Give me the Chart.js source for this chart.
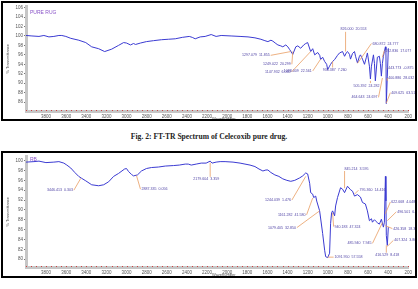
<!DOCTYPE html>
<html>
<head>
<meta charset="utf-8">
<script src="https://cdn.jsdelivr.net/npm/chart.js@4.4.1/dist/chart.umd.min.js"></script>
<style>
  body { margin: 0; width: 418px; height: 289px; background: #fff; position: relative; overflow: hidden; }
  .frame { position: absolute; left: 1px; width: 412px; border: 2px solid #000; }
  #f1 { top: 1px; height: 116px; }
  #f2 { top: 151px; height: 123px; }
  .frame canvas { display: block; }
  #cap { position: absolute; top: 132px; left: 0; width: 418px; text-align: center;
         font: bold 7.6px 'Liberation Serif', serif; color: #222; }
</style>
</head>
<body>
<div class="frame" id="f1"><canvas id="pureChart" width="412" height="116"></canvas></div>
<div id="cap">Fig. 2: FT-TR Spectrum of Celecoxib pure drug.</div>
<div class="frame" id="f2"><canvas id="rbChart" width="412" height="123"></canvas></div>

<script>
// x axis (wavenumber) tick labels, shared by both panels
const waveTicks = [3800, 3600, 3400, 3200, 3000, 2800, 2600, 2400, 2200, 2000, 1800, 1600, 1400, 1200, 1000, 800, 600, 400, 200];
const pureTicksY = [106, 104, 102, 100, 98, 96, 94, 92, 90, 88, 86];
const rbTicksY = [100, 98, 96, 94, 92, 90, 88, 86, 84, 82, 80];

// pure drug spectrum
const pureWave = [4000, 3941, 3871, 3822, 3772, 3723, 3673, 3644, 3604, 3555, 3475, 3406, 3347, 3278, 3218, 3149, 3080, 3030, 3001, 2961,
  2931, 2911, 2862, 2803, 2733, 2654, 2585, 2516, 2446, 2377, 2347, 2318, 2268, 2219, 2159, 2110, 2060, 1961, 1872, 1793,
  1724, 1665, 1625, 1595, 1565, 1546, 1516, 1496, 1467, 1447, 1417, 1397, 1378, 1348, 1318, 1298, 1269, 1239, 1219, 1200,
  1170, 1150, 1130, 1100, 1080, 1071, 1051, 1031, 1011, 1001, 982, 972, 952, 932, 903, 883, 853, 833, 814, 804,
  784, 774, 754, 734, 724, 705, 685, 675, 655, 635, 616, 606, 586, 576, 566, 546, 536, 527, 517, 507,
  487, 477, 467, 457, 447, 437, 427, 422, 418, 408, 398];
const pureTrans = [100.1, 100.0, 99.9, 100.1, 99.8, 99.9, 100.1, 100.1, 99.9, 99.5, 99.1, 98.6, 97.7, 97.3, 96.7, 97.2, 98.0, 98.6, 98.5, 98.1,
  98.4, 98.2, 98.5, 98.8, 99.0, 99.2, 99.3, 99.4, 99.7, 99.9, 99.7, 99.4, 99.8, 99.9, 100.3, 99.9, 100.1, 100.0, 99.9, 99.8,
  99.6, 99.3, 99.0, 98.8, 99.1, 98.9, 98.4, 98.1, 97.9, 97.7, 98.1, 97.7, 97.1, 96.1, 97.7, 97.9, 97.4, 98.1, 98.4, 98.6,
  96.7, 97.3, 96.0, 96.5, 95.9, 95.0, 95.5, 94.6, 94.0, 92.9, 93.6, 94.0, 94.6, 95.0, 95.9, 96.4, 96.7, 95.7, 96.5, 96.7,
  96.1, 95.1, 96.3, 96.7, 95.7, 94.3, 95.7, 96.0, 95.1, 94.0, 95.5, 96.4, 93.6, 90.9, 93.6, 96.0, 94.2, 90.5, 93.0, 95.5,
  95.7, 94.2, 91.5, 94.2, 95.7, 96.7, 97.7, 97.1, 85.7, 91.5, 97.4];

// RB spectrum
const rbWave = [4000, 3921, 3871, 3802, 3723, 3673, 3624, 3594, 3555, 3515, 3476, 3446, 3406, 3347, 3278, 3228, 3179, 3129, 3080, 3020,
  3001, 2981, 2951, 2931, 2892, 2852, 2803, 2753, 2684, 2615, 2535, 2476, 2417, 2387, 2357, 2308, 2258, 2209, 2169, 2150,
  2110, 2070, 2021, 1942, 1872, 1823, 1773, 1724, 1684, 1645, 1615, 1595, 1566, 1526, 1486, 1447, 1407, 1368, 1328, 1279,
  1249, 1219, 1200, 1180, 1170, 1150, 1140, 1120, 1110, 1081, 1051, 1031, 1021, 1001, 982, 972, 962, 952, 932, 922,
  903, 873, 853, 833, 804, 774, 754, 734, 705, 675, 655, 626, 606, 586, 566, 556, 536, 527, 507, 487,
  467, 447, 437, 427, 422, 418, 408, 398];
const rbTrans = [99.7, 99.8, 99.9, 99.6, 99.7, 99.8, 99.5, 99.1, 98.5, 97.6, 96.8, 96.4, 95.9, 95.1, 94.9, 95.1, 95.7, 96.8, 97.4, 98.3,
  98.4, 97.8, 97.2, 96.9, 97.1, 97.9, 98.4, 98.6, 98.7, 98.9, 99.0, 99.1, 99.3, 99.3, 99.1, 99.3, 99.5, 99.5, 99.9, 99.5,
  99.7, 99.8, 99.8, 99.7, 99.5, 99.3, 99.1, 98.8, 98.3, 97.9, 98.1, 98.1, 97.6, 97.1, 96.8, 96.3, 96.0, 95.8, 96.0, 96.5,
  96.9, 97.5, 97.3, 95.4, 93.5, 93.2, 92.5, 92.8, 91.8, 89.8, 85.2, 81.8, 80.5, 80.3, 81.2, 87.2, 89.4, 89.8, 88.8, 90.8,
  92.5, 94.5, 94.2, 93.5, 94.8, 94.1, 93.8, 92.8, 93.1, 92.6, 91.5, 91.2, 89.8, 87.8, 88.2, 87.5, 88.0, 87.8, 87.4, 87.1,
  88.1, 86.5, 87.5, 96.8, 91.8, 84.8, 82.8, 86.5];

// peak annotations: text, marked peak (wavenumber, %T)
const purePeakText = ['1297.079  11.855', '1249.022  20.299', '1147.932  6.060', '1088.009  22.561', '936.387  7.260',
  '826.000  20.553', '680.872  24.777', '592.836  17.077', '443.773  -0.875', '400.886  28.032',
  '505.392  24.282', '464.643  24.697', '409.625  63.513'];
const purePeakWave = [1368, 1348, 1170, 1071, 952, 823, 705, 457, 418, 408, 576, 457, 418];
const purePeakTrans = [96.7, 96.7, 96.7, 95.1, 94.6, 96.7, 94.2, 95.5, 93.0, 90.5, 90.5, 91.1, 85.8];
// where each label sits (wavenumber, %T of its left/middle)
const purePeakLabelAt = [[1853, 95.9], [1645, 94.0], [1625, 92.4], [1437, 92.6], [1051, 92.8],
  [873, 101.4], [556, 98.4], [428, 96.9], [398, 93.2], [398, 91.1],
  [744, 89.5], [764, 87.0], [368, 88.0]];

const rbPeakText = ['3446.413  0.303', '2887.335  0.056', '2179.604  3.359', '1244.039  1.476', '1161.282  41.580',
  '1079.405  32.850', '1091.950  57.558', '940.183  47.324', '845.214  3.595', '795.360  14.416',
  '622.668  4.048', '496.501  6.722', '426.358  18.312', '407.324  3.862', '485.940  7.945', '416.529  8.418'];
const rbPeakWave = [3456, 2902, 2169, 1219, 1150, 1081, 1001, 952, 833, 734, 428, 408, 428, 408, 457, 418];
const rbPeakTrans = [96.4, 97.0, 99.6, 96.8, 92.4, 89.8, 80.4, 89.4, 94.4, 93.2, 89.2, 87.8, 86.8, 82.6, 87.4, 82.8];
const rbPeakLabelAt = [[3792, 94.0], [2852, 94.2], [2337, 96.2], [1625, 92.0], [1496, 89.0],
  [1595, 86.4], [932, 80.4], [932, 86.6], [833, 98.4], [685, 94.0],
  [368, 91.6], [309, 89.6], [348, 86.2], [338, 83.8], [804, 83.2], [527, 80.8]];

// leader lines + peak labels
const peakLabels = {
  id: 'peakLabels',
  afterDatasetsDraw(chart, args, opts) {
    const ctx = chart.ctx, x = chart.scales.x, y = chart.scales.y;
    ctx.save();
    ctx.font = '3.6px "Liberation Sans"';
    ctx.textBaseline = 'middle';
    opts.text.forEach((t, i) => {
      const tx = x.getPixelForValue(opts.wave[i]);
      const ty = y.getPixelForValue(opts.trans[i]);
      const lx = x.getPixelForValue(opts.at[i][0]);
      const ly = y.getPixelForValue(opts.at[i][1]);
      const w = ctx.measureText(t).width;
      let sx, sy;
      if (tx > lx + w) { sx = lx + w + 1; sy = ly; }
      else if (tx < lx) { sx = lx - 1; sy = ly; }
      else { sx = tx; sy = ty < ly ? ly - 2.5 : ly + 2.5; }
      ctx.strokeStyle = '#e99d62';
      ctx.lineWidth = 0.8;
      ctx.beginPath();
      ctx.moveTo(sx, sy);
      ctx.lineTo(tx, ty);
      ctx.stroke();
      ctx.fillStyle = '#5246a6';
      ctx.fillText(t, lx, ly);
    });
    ctx.restore();
  }
};

// axis titles, sample tag and the red minor marks on the x axis
const panelDecor = {
  id: 'panelDecor',
  afterDraw(chart, args, opts) {
    const ctx = chart.ctx, area = chart.chartArea, x = chart.scales.x;
    ctx.save();
    ctx.fillStyle = '#d04040';
    for (let w = 4000; w >= 200; w -= 50) {
      ctx.fillRect(Math.round(x.getPixelForValue(w)), area.bottom - 1, 1, 1);
    }
    ctx.fillStyle = '#555';
    ctx.font = '4px "Liberation Sans"';
    ctx.textBaseline = 'middle';
    ctx.fillText('Wavenumber', 209, area.bottom + 7.5);
    ctx.translate(5, (area.top + area.bottom) / 2);
    ctx.rotate(-Math.PI / 2);
    ctx.textAlign = 'center';
    ctx.fillText('% Transmittance', 0, 0);
    ctx.restore();
    ctx.save();
    ctx.fillStyle = '#8a55c8';
    ctx.font = '5px "Liberation Sans"';
    ctx.textBaseline = 'middle';
    ctx.fillText(opts.tag, area.left + 4, area.top + opts.tagDy);
    ctx.restore();
  }
};

function makeChart(id, wave, trans, ticksY, yMin, yMax, pad, axisH, peaks, tag, tagDy) {
  return new Chart(document.getElementById(id).getContext('2d'), {
    type: 'line',
    data: {
      datasets: [{
        data: wave.map((w, i) => ({ x: w, y: trans[i] })),
        borderColor: '#3b3bd2',
        borderWidth: 1,
        pointRadius: 0,
        tension: 0
      }]
    },
    options: {
      responsive: false,
      animation: false,
      layout: { padding: pad },
      plugins: {
        legend: { display: false },
        tooltip: { enabled: false },
        peakLabels: peaks,
        panelDecor: { tag: tag, tagDy: tagDy }
      },
      scales: {
        x: {
          type: 'linear',
          reverse: true,
          min: 200,
          max: 4000,
          afterBuildTicks: axis => { axis.ticks = waveTicks.map(v => ({ value: v })); },
          afterFit: axis => { axis.height = axisH; },
          grid: { display: false, drawTicks: false },
          border: { color: '#c6c6c6', width: 3 },
          ticks: {
            font: { size: 4.5, family: 'Liberation Sans' }, color: '#555', padding: 3,
            maxRotation: 0, autoSkip: false, callback: v => String(v)
          }
        },
        y: {
          min: yMin,
          max: yMax,
          afterBuildTicks: axis => { axis.ticks = ticksY.map(v => ({ value: v })); },
          afterFit: axis => { axis.width = 23; },
          grid: { drawOnChartArea: false, tickLength: 2, color: '#777' },
          border: { color: '#c6c6c6', width: 3 },
          ticks: { font: { size: 4.5, family: 'Liberation Sans' }, color: '#555', padding: 1, callback: v => String(v) }
        }
      }
    },
    plugins: [peakLabels, panelDecor]
  });
}

makeChart('pureChart', pureWave, pureTrans, pureTicksY, 84.12, 106.19,
  { left: 0, top: 1, right: 4, bottom: 0 }, 8,
  { text: purePeakText, wave: purePeakWave, trans: purePeakTrans, at: purePeakLabelAt },
  'PURE RUG', 6);

makeChart('rbChart', rbWave, rbTrans, rbTicksY, 78.4, 100.8,
  { left: 0, top: 2, right: 4, bottom: 0 }, 9,
  { text: rbPeakText, wave: rbPeakWave, trans: rbPeakTrans, at: rbPeakLabelAt },
  'RB', 3);
</script>
</body>
</html>
